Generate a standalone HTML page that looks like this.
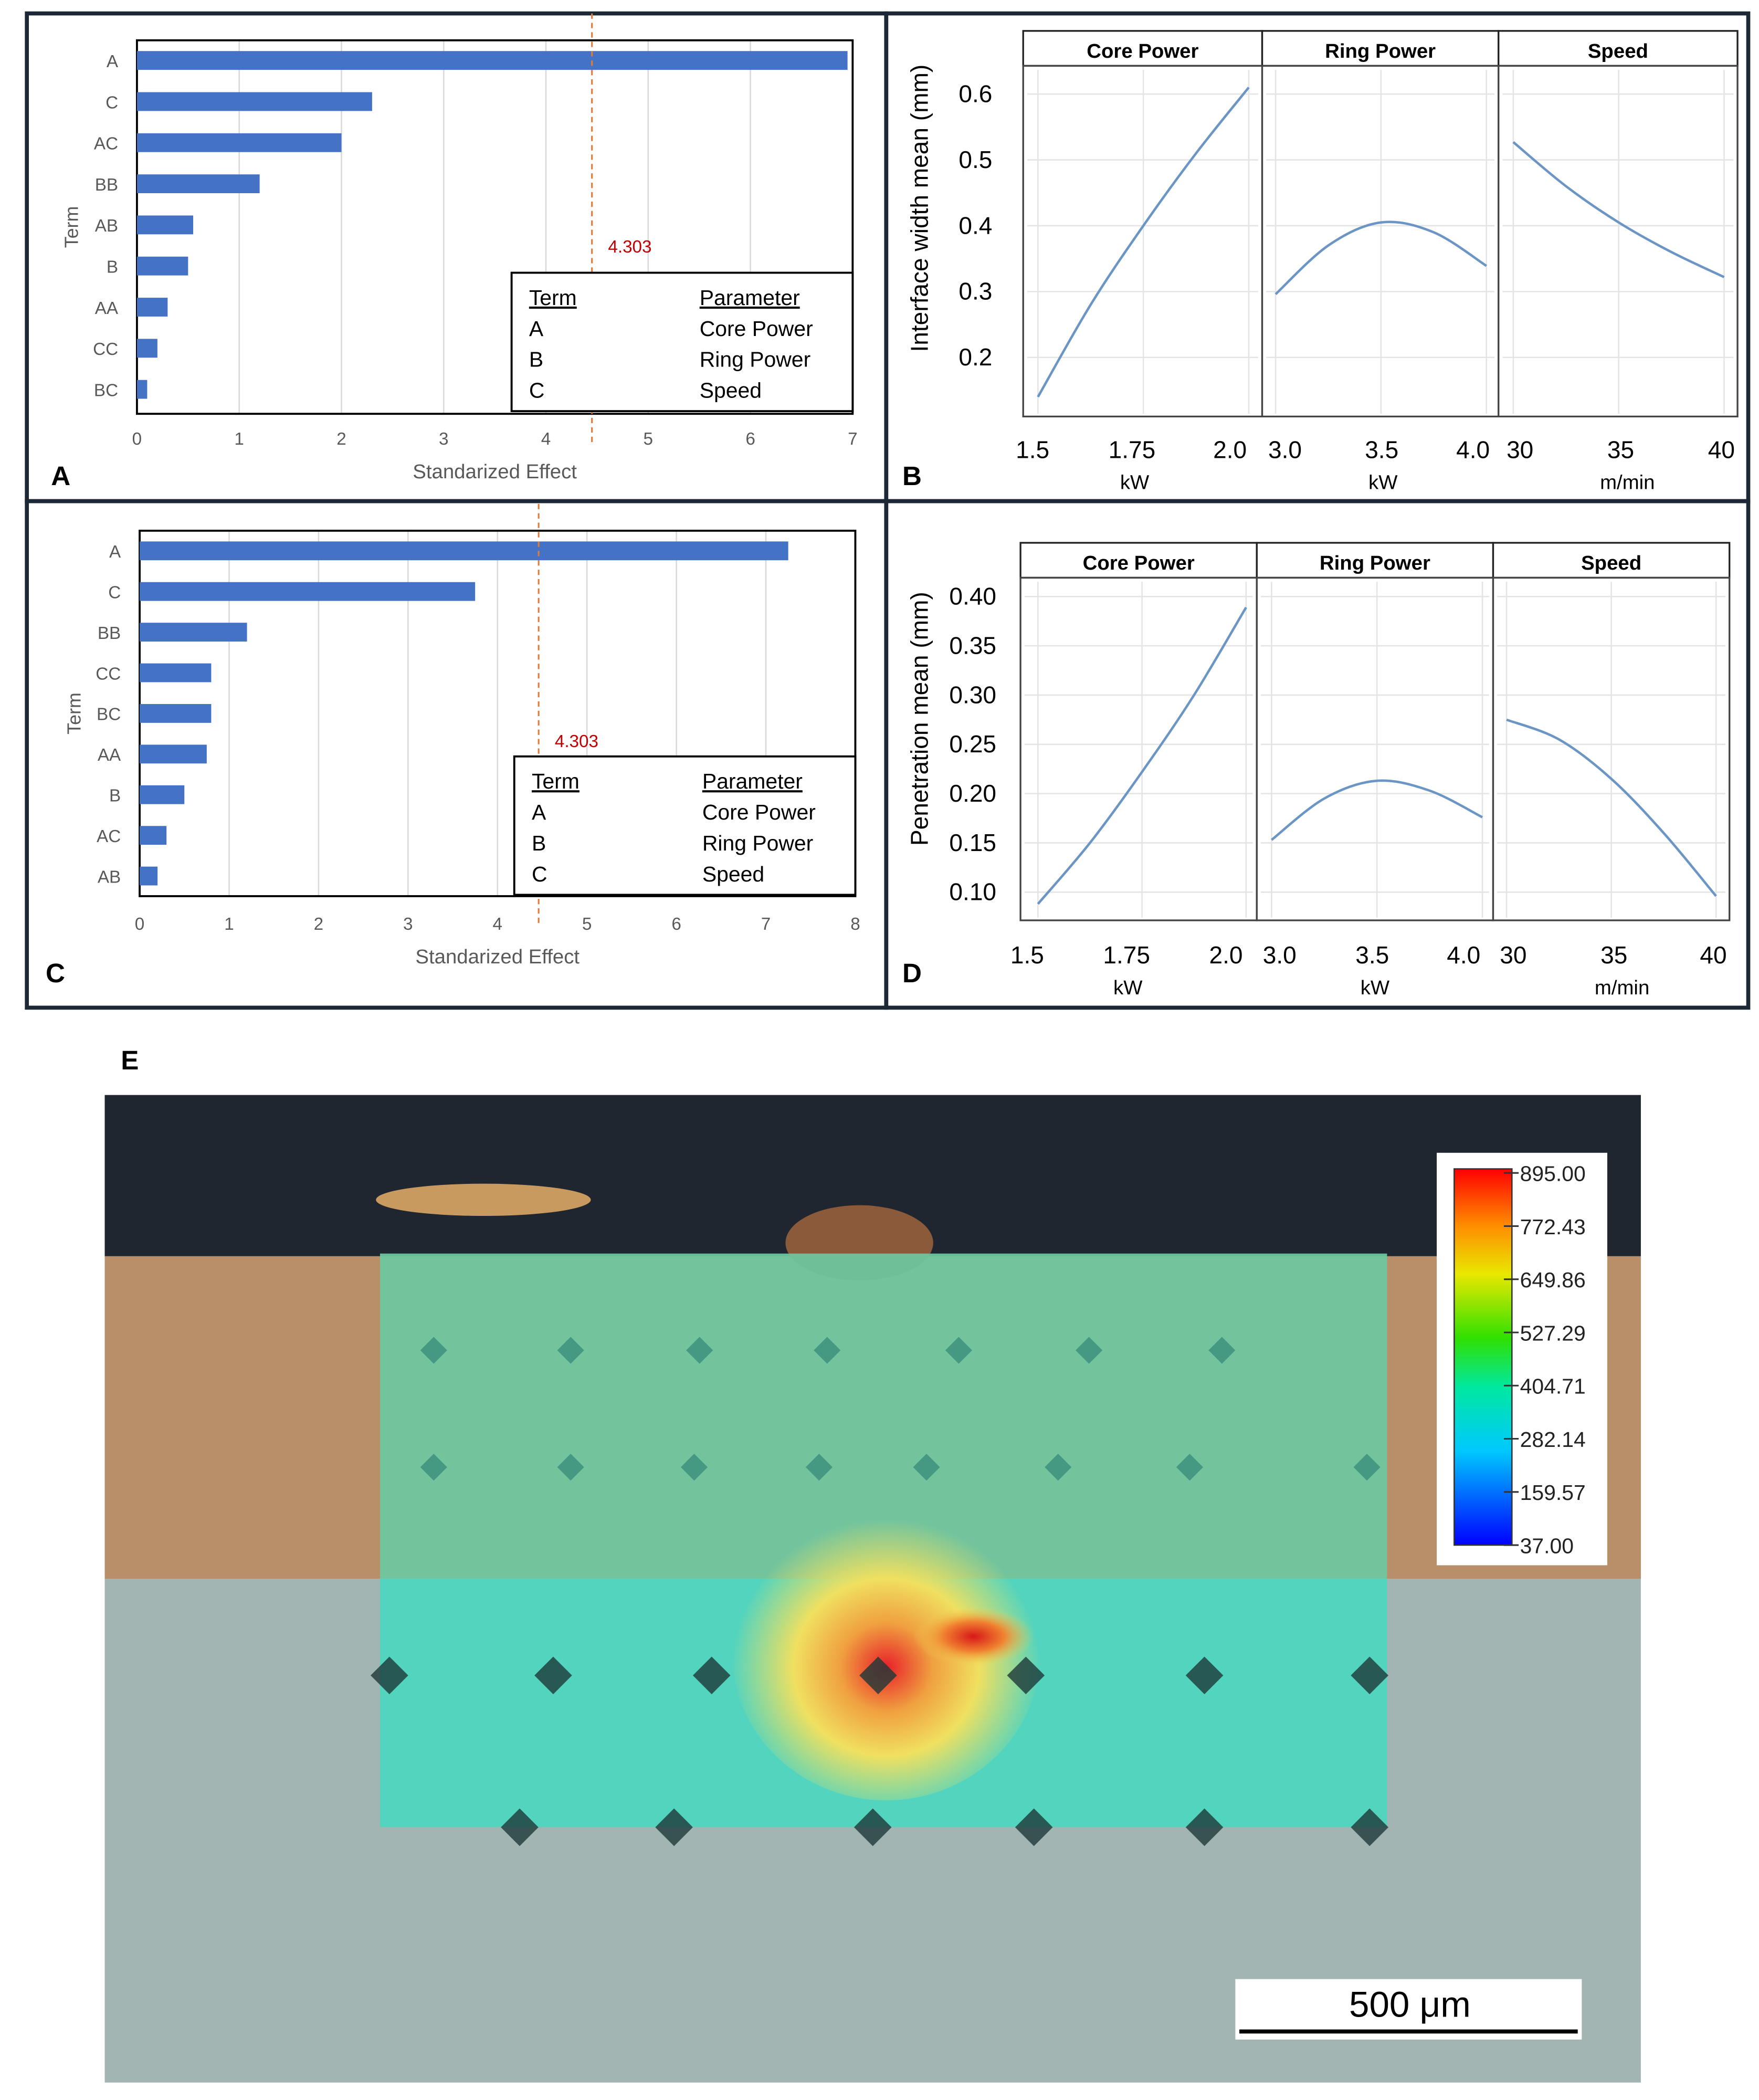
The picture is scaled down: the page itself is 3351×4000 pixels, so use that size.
<!DOCTYPE html>
<html><head><meta charset="utf-8">
<style>
html,body{margin:0;padding:0;background:#fff;}
svg{display:block;}
text{font-family:"Liberation Sans",sans-serif;}
</style></head>
<body>
<svg id="fig" width="3351" height="4000" viewBox="0 0 1310 1563" preserveAspectRatio="none" xmlns="http://www.w3.org/2000/svg">
<defs>
<linearGradient id="cbar" x1="0" y1="1" x2="0" y2="0">
<stop offset="0" stop-color="#0000ff"/><stop offset="0.25" stop-color="#00c8ff"/><stop offset="0.42" stop-color="#00e8a0"/><stop offset="0.55" stop-color="#30e000"/><stop offset="0.72" stop-color="#e8e800"/><stop offset="0.85" stop-color="#ff8c00"/><stop offset="1" stop-color="#ff0000"/>
</linearGradient>
<radialGradient id="hot" cx="0.5" cy="0.55" r="0.5">
<stop offset="0" stop-color="#e8202a"/><stop offset="0.3" stop-color="#f0a040"/><stop offset="0.6" stop-color="#f0e060"/><stop offset="1" stop-color="#f0e060" stop-opacity="0"/>
</radialGradient>
<radialGradient id="hot2" cx="0.5" cy="0.5" r="0.5">
<stop offset="0" stop-color="#d81818"/><stop offset="0.5" stop-color="#f08030"/><stop offset="1" stop-color="#f0d050" stop-opacity="0"/>
</radialGradient>
</defs>
<g id="frames">
<rect x="20" y="10" width="640" height="363" fill="none" stroke="#1c2836" stroke-width="3"/>
<rect x="660" y="10" width="642" height="363" fill="none" stroke="#1c2836" stroke-width="3"/>
<rect x="20" y="373" width="640" height="377" fill="none" stroke="#1c2836" stroke-width="3"/>
<rect x="660" y="373" width="642" height="377" fill="none" stroke="#1c2836" stroke-width="3"/>
</g>
<g id="pA"></g>
<g id="pC"></g>
<g id="pB"></g>
<g id="pD"></g>
<text x="38" y="361" font-size="20" font-weight="bold">A</text>
<text x="672" y="361" font-size="20" font-weight="bold">B</text>
<text x="34" y="731" font-size="20" font-weight="bold">C</text>
<text x="672" y="731" font-size="20" font-weight="bold">D</text>
<text x="90" y="796" font-size="20" font-weight="bold">E</text>
<g id="pE">
<rect x="78" y="815" width="1144" height="735" fill="#a2b5b2"/>
<rect x="78" y="815" width="1144" height="120" fill="#1f2630"/>
<rect x="78" y="935" width="1144" height="240" fill="#b88f68"/>
<ellipse cx="360" cy="893" rx="80" ry="12" fill="#c99a60"/>
<ellipse cx="640" cy="925" rx="55" ry="28" fill="#8a5a3a"/>
<rect x="283" y="933" width="750" height="242" fill="#6cc9a2" opacity="0.92"/>
<rect x="283" y="1175" width="750" height="185" fill="#4fd6bf" opacity="0.95"/>
<ellipse cx="660" cy="1230" rx="115" ry="110" fill="url(#hot)"/>
<ellipse cx="725" cy="1218" rx="45" ry="22" fill="url(#hot2)"/>
<g id="dots"></g>
<rect x="1070" y="858" width="127" height="307" fill="#fff"/>
<rect x="1083" y="870" width="43" height="280" fill="url(#cbar)" stroke="#333" stroke-width="1"/>
<g id="cbl"></g>
<rect x="920" y="1473" width="258" height="45" fill="#fff"/>
<line x1="923" y1="1512" x2="1175" y2="1512" stroke="#000" stroke-width="3"/>
<text x="1050" y="1501" font-size="27" text-anchor="middle">500 μm</text>
</g>
</svg>
<script>
const NS="http://www.w3.org/2000/svg";
function mk(p,tag,a,txt){const e=document.createElementNS(NS,tag);for(const k in a)e.setAttribute(k,a[k]);if(txt!==undefined)e.textContent=txt;p.appendChild(e);return e;}

// Pareto A data
const termsA=["A","C","AC","BB","AB","B","AA","CC","BC"];
const effectsA=[6.95,2.3,2.0,1.2,0.55,0.5,0.3,0.2,0.1];
const ticksA=[0,1,2,3,4,5,6,7];
const refA=4.45; const refLabel="4.303";
// Pareto C data
const termsC=["A","C","BB","CC","BC","AA","B","AC","AB"];
const effectsC=[7.25,3.75,1.2,0.8,0.8,0.75,0.5,0.3,0.2];
const ticksC=[0,1,2,3,4,5,6,7,8];
const refC=4.46;
const legTerms=["A","B","C"];
const legParams=["Core Power","Ring Power","Speed"];

function pareto(g,cfg,terms,vals,ticks,ref,tag){
  const x=v=>cfg.x0+(v-ticks[0])/(ticks[ticks.length-1]-ticks[0])*(cfg.x1-cfg.x0);
  const y=i=>cfg.yTop+cfg.step*i;
  ticks.forEach(t=>{
    const l=mk(g,"line",{x1:x(t),x2:x(t),y1:cfg.boxT,y2:cfg.boxB,stroke:"#d9d9d9","stroke-width":1});
    
    
    const tx=mk(g,"text",{x:x(t),y:cfg.tickY,"font-size":13,fill:"#595959","text-anchor":"middle"},t);
    
    
  });
  const bx=mk(g,"rect",{x:cfg.x0,y:cfg.boxT,width:cfg.x1-cfg.x0,height:cfg.boxB-cfg.boxT,fill:"none",stroke:"#000","stroke-width":1.5});
  
  
  terms.forEach((t,i)=>{
    const r=mk(g,"rect",{x:x(0),y:y(i)-7,width:x(vals[i])-x(0),height:14,fill:"#4472c4"});
    
    
    const l=mk(g,"text",{x:cfg.x0-14,y:y(i)+5,"font-size":13,fill:"#595959","text-anchor":"end"},t);
    
    
  });
  const rl=mk(g,"line",{x1:x(ref),x2:x(ref),y1:cfg.boxT-20,y2:cfg.boxB+22,stroke:"#e07b39","stroke-width":1.2,"stroke-dasharray":"4,3"});
  
  
  const rt=mk(g,"text",{x:x(ref)+12,y:cfg.refY,"font-size":13,fill:"#c00000"},refLabel);
  
  
  const yt=mk(g,"text",{x:0,y:0,"font-size":14,fill:"#595959","text-anchor":"middle",transform:`translate(${cfg.x0-44},${(cfg.boxT+cfg.boxB)/2}) rotate(-90)`},"Term");
  
  
  const xt=mk(g,"text",{x:(cfg.x0+cfg.x1)/2,y:cfg.tickY+25,"font-size":15,fill:"#595959","text-anchor":"middle"},"Standarized Effect");
  
  
  const lg=mk(g,"g",{});
  
  
  const lb=mk(lg,"rect",{x:cfg.lx,y:cfg.ly,width:cfg.x1-cfg.lx,height:103,fill:"#fff",stroke:"#000","stroke-width":1.5});
  
  
  const h1=mk(lg,"text",{x:cfg.lx+13,y:cfg.ly+24,"font-size":16,"text-decoration":"underline"},"Term");
  
  
  const h2=mk(lg,"text",{x:cfg.lx+140,y:cfg.ly+24,"font-size":16,"text-decoration":"underline"},"Parameter");
  
  
  legTerms.forEach((t,i)=>{
    const a=mk(lg,"text",{x:cfg.lx+13,y:cfg.ly+47+i*23,"font-size":16},t);
    
    
    const b=mk(lg,"text",{x:cfg.lx+140,y:cfg.ly+47+i*23,"font-size":16},legParams[i]);
    
    
  });
}
pareto(document.getElementById("pA"),{x0:102,x1:635,boxT:30,boxB:308,yTop:45,step:30.6,tickY:331,refY:188,lx:381,ly:203},termsA,effectsA,ticksA,refA);
pareto(document.getElementById("pC"),{x0:104,x1:637,boxT:395,boxB:667,yTop:410,step:30.25,tickY:692,refY:556,lx:383,ly:563},termsC,effectsC,ticksC,refC);

// Main effects B
const facets=["Core Power","Ring Power","Speed"];
const units=["kW","kW","m/min"];
const xsCore=[1.5,1.625,1.75,1.875,2.0];
const xsRing=[3.0,3.25,3.5,3.75,4.0];
const xsSpeed=[30,32.5,35,37.5,40];
const xTickCore=["1.5","1.75","2.0"], xTickRing=["3.0","3.5","4.0"], xTickSpeed=["30","35","40"];
const widthCore=[0.14,0.28,0.40,0.51,0.61];
const widthRing=[0.296,0.37,0.405,0.39,0.339];
const widthSpeed=[0.527,0.46,0.405,0.36,0.322];
const yTicksB=[0.6,0.5,0.4,0.3,0.2];
const penCore=[0.088,0.15,0.222,0.30,0.389];
const penRing=[0.153,0.195,0.213,0.203,0.176];
const penSpeed=[0.275,0.255,0.215,0.16,0.096];
const yTicksD=["0.40","0.35","0.30","0.25","0.20","0.15","0.10"];

function effects(g,cfg,series,yTicks,ytitle){
  const xsAll=[xsCore,xsRing,xsSpeed];
  const tickAll=[xTickCore,xTickRing,xTickSpeed];
  const y=v=>cfg.yA+(v-cfg.vA)/(cfg.vB-cfg.vA)*(cfg.yB-cfg.yA);
  for(let f=0;f<3;f++){
    const fx0=cfg.fx[f], fx1=cfg.fx[f+1];
    const xs=xsAll[f];
    const px0=cfg.px[f][0], px1=cfg.px[f][1];
    const x=v=>px0+(v-xs[0])/(xs[xs.length-1]-xs[0])*(px1-px0);
    const hb=mk(g,"rect",{x:fx0,y:cfg.hT,width:fx1-fx0,height:cfg.hB-cfg.hT,fill:"#fff",stroke:"#222","stroke-width":1.3});
    
    
    const ht=mk(g,"text",{x:(fx0+fx1)/2,y:cfg.hT+20,"font-size":15,"font-weight":"bold","text-anchor":"middle"},facets[f]);
    
    
    const pb=mk(g,"rect",{x:fx0,y:cfg.hB,width:fx1-fx0,height:cfg.pB-cfg.hB,fill:"#fff",stroke:"#444","stroke-width":1.3});
    
    
    yTicks.forEach(t=>{
      const gl=mk(g,"line",{x1:fx0+3,x2:fx1-3,y1:y(+t),y2:y(+t),stroke:"#e4e4e4","stroke-width":1});
      
      
    });
    [xs[0],xs[2],xs[4]].forEach((v,i)=>{
      const gl=mk(g,"line",{x1:x(v),x2:x(v),y1:cfg.hB+3,y2:cfg.pB-2,stroke:"#e4e4e4","stroke-width":1});
      
      
      const tl=mk(g,"text",{x:cfg.tx[f][i],y:cfg.tickY,"font-size":18,"text-anchor":"middle"},tickAll[f][i]);
      
      
    });
    const ul=mk(g,"text",{x:cfg.ux[f],y:cfg.tickY+23,"font-size":15,"text-anchor":"middle"},units[f]);
    
    
    const vals=series[f];
    // smooth curve via quadratic-ish Catmull-Rom
    const pts=xs.map((v,i)=>[x(v),y(vals[i])]);
    let d=`M${pts[0][0]},${pts[0][1]}`;
    for(let i=0;i<pts.length-1;i++){
      const p0=pts[Math.max(0,i-1)],p1=pts[i],p2=pts[i+1],p3=pts[Math.min(pts.length-1,i+2)];
      d+=` C${p1[0]+(p2[0]-p0[0])/6},${p1[1]+(p2[1]-p0[1])/6} ${p2[0]-(p3[0]-p1[0])/6},${p2[1]-(p3[1]-p1[1])/6} ${p2[0]},${p2[1]}`;
    }
    const ln=mk(g,"path",{d:d,fill:"none",stroke:"#6b95c4","stroke-width":1.8});
    
    
  }
  yTicks.forEach(t=>{
    const tl=mk(g,"text",{x:cfg.ytx,y:y(+t)+6,"font-size":18,"text-anchor":"end"},t);
    
    
  });
  const yt=mk(g,"text",{x:0,y:0,"font-size":18,"text-anchor":"middle",transform:`translate(${cfg.ytitleX},${cfg.ytitleY}) rotate(-90)`},ytitle);
  
  
}
effects(document.getElementById("pB"),{fx:[762,940,1116,1294],hT:23,hB:49,pB:310,yA:70,vA:0.6,yB:266,vB:0.2,
  px:[[773,930],[950,1107],[1127,1284]],tx:[[769,843,916],[957,1029,1097],[1132,1207,1282]],ux:[845,1030,1212],tickY:341,ytx:739,ytitleX:691,ytitleY:155},
  [widthCore,widthRing,widthSpeed],yTicksB,"Interface width mean (mm)");
effects(document.getElementById("pD"),{fx:[760,936,1112,1288],hT:404,hB:430,pB:685,yA:444,vA:0.40,yB:664,vB:0.10,
  px:[[773,928],[947,1104],[1122,1278]],tx:[[765,839,913],[953,1022,1090],[1127,1202,1276]],ux:[840,1024,1208],tickY:717,ytx:742,ytitleX:691,ytitleY:535},
  [penCore,penRing,penSpeed],yTicksD,"Penetration mean (mm)");

// Panel E indents and colorbar
const cbValues=["895.00","772.43","649.86","527.29","404.71","282.14","159.57","37.00"];
const dg=document.getElementById("dots");
const rowsY=[1005,1092,1247,1360];
const rowsX=[[323,425,521,616,714,811,910],[323,425,517,610,690,788,886,1018],[290,412,530,654,764,897,1020],[387,502,650,770,897,1020]];
rowsY.forEach((yy,r)=>rowsX[r].forEach(xx=>{
  const s=r>=2?14:10;
  const dm=mk(dg,"polygon",{points:`${xx},${yy-s} ${xx+s},${yy} ${xx},${yy+s} ${xx-s},${yy}`,fill:r>=2?"#1e3838":"#3a8f7c",opacity:0.8});
  
  
}));
const cb=document.getElementById("cbl");
cbValues.forEach((v,i)=>{
  const yy=873+i*(277/7);
  const tk=mk(cb,"line",{x1:1120,x2:1131,y1:yy,y2:yy,stroke:"#333","stroke-width":1.2});
  
  
  const t=mk(cb,"text",{x:1132,y:yy+6,"font-size":16,fill:"#222","font-family":"Liberation Serif"},v);
  
  
});
</script>
</body></html>
